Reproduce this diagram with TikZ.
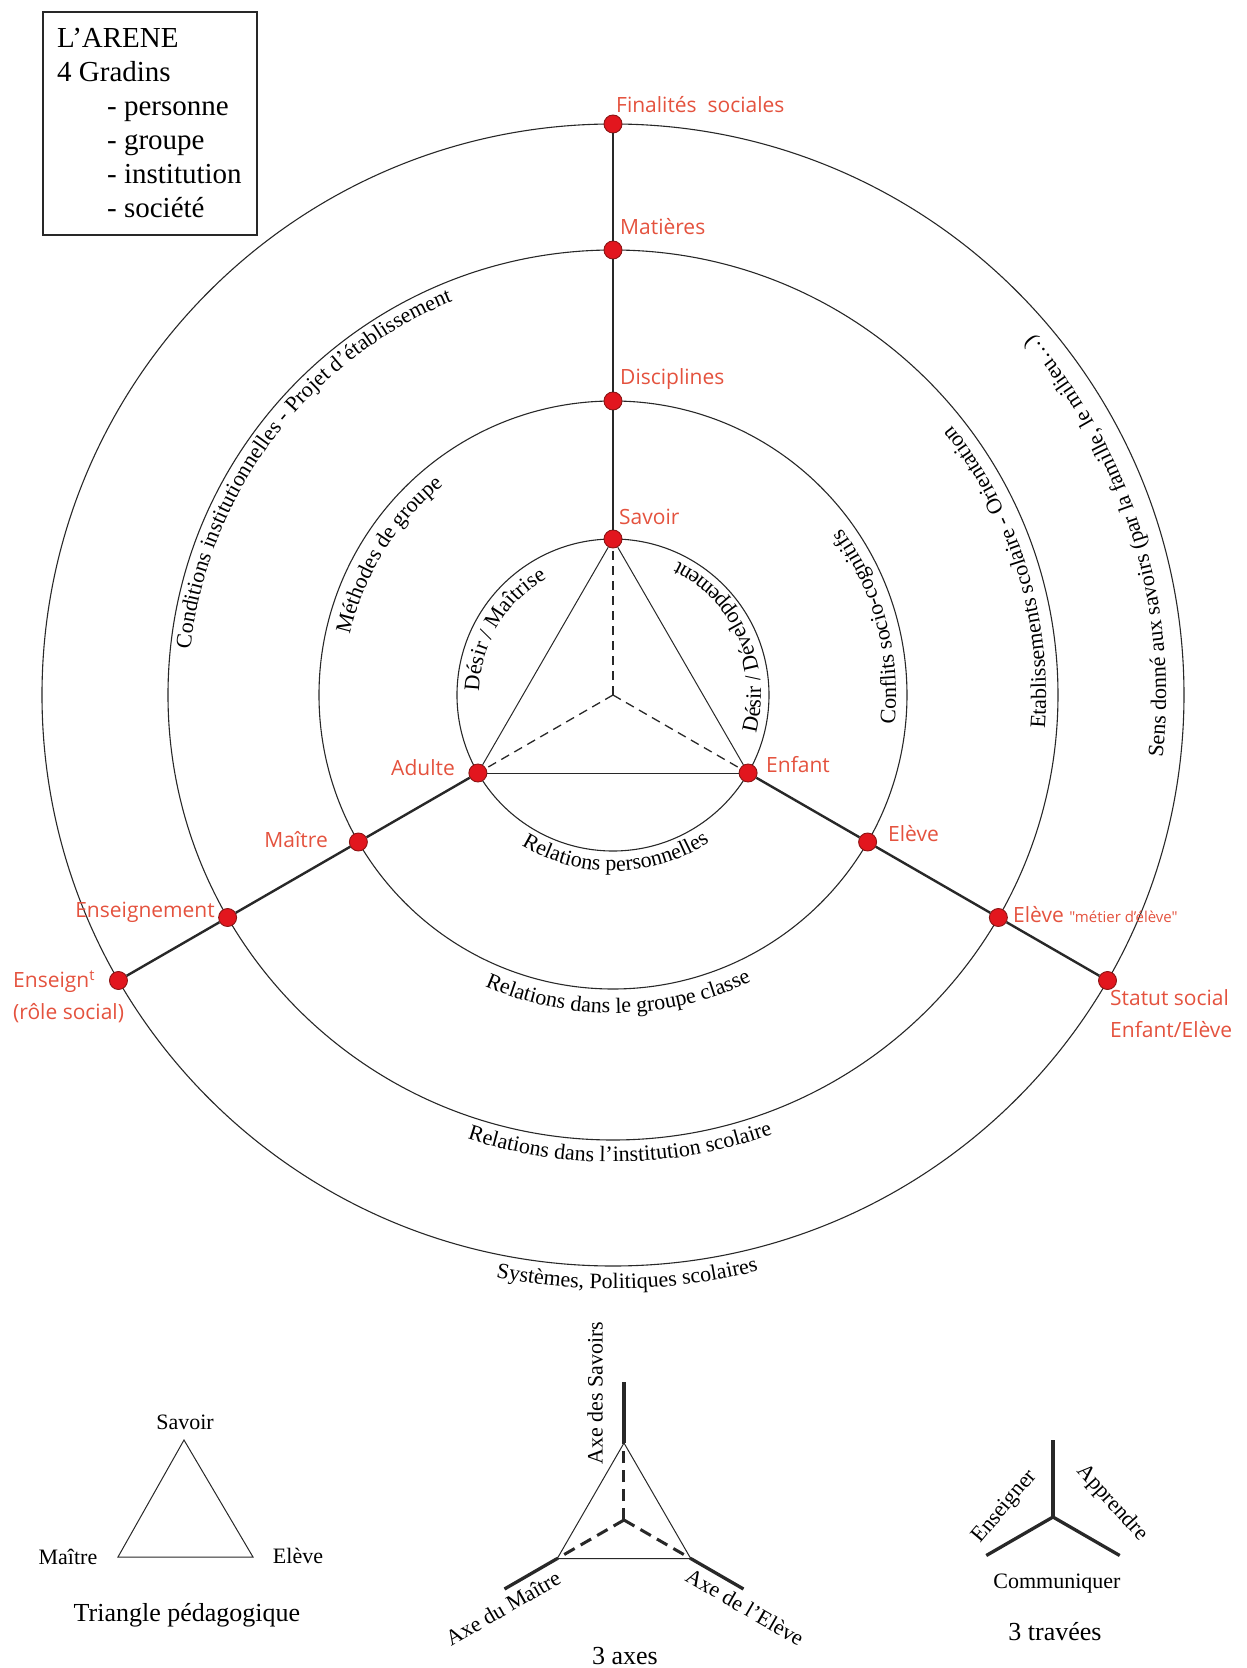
\documentclass[tikz,border=0pt]{standalone}
\usepackage{fontspec}
\setmainfont{Liberation Serif}
\newfontfamily\labfont{Open Sans}
\usetikzlibrary{decorations.text}
\definecolor{labred}{RGB}{228,82,62}
\definecolor{dotred}{RGB}{226,22,30}
\definecolor{dotedge}{RGB}{140,20,20}
\definecolor{ink}{RGB}{40,40,40}
\begin{document}
\begin{tikzpicture}[x=1pt,y=1pt,
  ring/.style={draw=ink, line width=1.1pt},
  axisline/.style={draw=ink, line width=2.4pt},
  triline/.style={draw=ink, line width=1pt},
  dashline/.style={draw=ink, line width=1.3pt, dash pattern=on 9pt off 6pt},
  dot/.style={circle, fill=dotred, draw=dotedge, line width=0.9pt, minimum size=18pt, inner sep=0pt},
  lab/.style={font=\labfont\fontsize{21}{32}\selectfont, text=labred, inner sep=0pt},
  boxtext/.style={font=\fontsize{29}{34}\selectfont, anchor=base west, inner sep=0pt},
  smalltext/.style={font=\fontsize{22}{26}\selectfont, inner sep=0pt},
  titletext/.style={font=\fontsize{26}{30}\selectfont, inner sep=0pt},
  thickaxis/.style={draw=ink, line width=3.3pt},
  thickdash/.style={draw=ink, line width=3pt, dash pattern=on 12pt off 7pt},
  arctext/.style={decorate, decoration={text along path, text align=center, text={|\fontsize{22}{26}\selectfont|#1}}}
]
\useasboundingbox (-613,-973) rectangle (634,695);

% ---- legend box
\draw[line width=2pt, draw=ink] (-570,683) rectangle (-356,460);
\node[boxtext] (b1) at (-556,647) {L’ARENE};
\node[boxtext] (b2) at (-556,613) {4 Gradins};
\node[boxtext] (b3) at (-506,579) {- personne};
\node[boxtext] (b4) at (-506,545) {- groupe};
\node[boxtext] (b5) at (-506,511) {- institution};
\node[boxtext] (b6) at (-506,477) {- société};

% ---- rings
\draw[ring] (0,0) circle[radius=156];
\draw[ring] (0,0) circle[radius=294];
\draw[ring] (0,0) circle[radius=445];
\draw[ring] (0,0) circle[radius=571];

% ---- dots
\coordinate (o) at (0,0);
\node[dot] (s1) at (90:156) {};
\node[dot] (s2) at (90:294) {};
\node[dot] (s3) at (90:445) {};
\node[dot] (s4) at (90:571) {};
\node[dot] (m1) at (210:156) {};
\node[dot] (m2) at (210:294) {};
\node[dot] (m3) at (210:445) {};
\node[dot] (m4) at (210:571) {};
\node[dot] (e1) at (-30:156) {};
\node[dot] (e2) at (-30:294) {};
\node[dot] (e3) at (-30:445) {};
\node[dot] (e4) at (-30:571) {};

% ---- axes
\draw[axisline] (s1) -- (s2); \draw[axisline] (s2) -- (s3); \draw[axisline] (s3) -- (s4);
\draw[axisline] (m1) -- (m2); \draw[axisline] (m2) -- (m3); \draw[axisline] (m3) -- (m4);
\draw[axisline] (e1) -- (e2); \draw[axisline] (e2) -- (e3); \draw[axisline] (e3) -- (e4);

% ---- triangle
\draw[triline] (s1) -- (m1);
\draw[triline] (m1) -- (e1);
\draw[triline] (e1) -- (s1);
\draw[dashline] (o) -- (s1);
\draw[dashline] (o) -- (m1);
\draw[dashline] (o) -- (e1);

% ---- red labels
\node[lab, anchor=west] (ls4) at (3,590) {Finalités~~sociales};
\node[lab, anchor=west] (ls3) at (7,468) {Matières};
\node[lab, anchor=west] (ls2) at (7,316) {Disciplines};
\node[lab, anchor=west] (ls1) at (6,178) {Savoir};
\node[lab, anchor=east] (lm1) at (-158,-73) {Adulte};
\node[lab, anchor=east] (lm2) at (-285,-145) {Maître};
\node[lab, anchor=east] (lm3) at (-398,-217) {Enseignement};
\node[lab, anchor=west, align=left] (lm4) at (-600,-302) {Enseign\textsuperscript{t}\\(rôle social)};
\node[lab, anchor=west] (le1) at (153,-70) {Enfant};
\node[lab, anchor=west] (le2) at (275,-139) {Elève};
\node[lab, anchor=west] (le3) at (400,-220) {Elève {\fontsize{15}{18}\selectfont"métier d’élève"}};
\node[lab, anchor=west, align=left] (le4) at (497,-319) {Statut social\\Enfant/Elève};

% ---- curved texts (left, clockwise)
\path[arctext={Désir / Maîtrise}] (192:134) arc[start angle=192, end angle=106, radius=134];
\path[arctext={Méthodes de groupe}] (180:270) arc[start angle=180, end angle=116, radius=270];
\path[arctext={Conditions institutionnelles - Projet d’établissement}] (185:425) arc[start angle=185, end angle=101, radius=425];
% ---- curved texts (right, counter-clockwise)
\path[arctext={Désir / Développement}] (-24:148) arc[start angle=-24, end angle=73, radius=148];
\path[arctext={Conflits socio-cognitifs}] (-17:283) arc[start angle=-17, end angle=47, radius=283];
\path[arctext={Etablissements scolaire - Orientation}] (-20:433) arc[start angle=-20, end angle=54, radius=433];
\path[arctext={Sens donné aux savoirs (par la famille{,} le milieu…)}] (-20:553) arc[start angle=-20, end angle=54, radius=553];
% ---- curved texts (bottom)
\path[arctext={Relations personnelles}] (219:176) arc[start angle=219, end angle=323, radius=176];
\path[arctext={Relations dans le groupe classe}] (234:318) arc[start angle=234, end angle=308, radius=318];
\path[arctext={Relations dans l’institution scolaire}] (243.9:467) arc[start angle=243.9, end angle=297.9, radius=467];
\path[arctext={Systèmes{,} Politiques scolaires}] (249.4:594) arc[start angle=249.4, end angle=293.4, radius=594];

% ---- Triangle pédagogique
\coordinate (tp1) at (-429,-745);
\coordinate (tp2) at (-495,-862);
\coordinate (tp3) at (-360,-862);
\draw[triline] (tp1) -- (tp2) -- (tp3) -- cycle;
\node[smalltext] (tpa) at (-428,-727) {Savoir};
\node[smalltext] (tpb) at (-545,-862) {Maître};
\node[smalltext] (tpc) at (-315,-861) {Elève};
\node[titletext] (tpt) at (-426,-920) {Triangle pédagogique};

% ---- 3 axes
\coordinate (ac) at (11,-825);
\coordinate (a1) at (11,-748);
\coordinate (a2) at (-55.7,-863.5);
\coordinate (a3) at (77.7,-863.5);
\coordinate (x1) at (11,-687);
\coordinate (x2) at (-108.5,-894);
\coordinate (x3) at (130.5,-894);
\draw[triline] (a1) -- (a2) -- (a3) -- cycle;
\draw[thickdash] (ac) -- (a1);
\draw[thickdash] (ac) -- (a2);
\draw[thickdash] (ac) -- (a3);
\draw[thickaxis] (a1) -- (x1);
\draw[thickaxis] (a2) -- (x2);
\draw[thickaxis] (a3) -- (x3);
\node[smalltext, rotate=90] (axs) at (-18,-698) {Axe des Savoirs};
\node[smalltext, rotate=30] (axm) at (-110,-913) {Axe du Maître};
\node[smalltext, rotate=-30] (axe) at (132,-912) {Axe de l’Elève};
\node[titletext] (axt) at (12,-961) {3 axes};

% ---- 3 travées
\coordinate (tc) at (440,-822);
\coordinate (t1) at (440,-745);
\coordinate (t2) at (373.3,-860.5);
\coordinate (t3) at (506.7,-860.5);
\draw[thickaxis] (tc) -- (t1);
\draw[thickaxis] (tc) -- (t2);
\draw[thickaxis] (tc) -- (t3);
\node[smalltext, rotate=50] (tre) at (392,-812) {Enseigner};
\node[smalltext, rotate=-48] (tra) at (499,-808) {Apprendre};
\node[smalltext] (trc) at (444,-889) {Communiquer};
\node[titletext] (trt) at (442,-937) {3 travées};
\end{tikzpicture}
\end{document}
